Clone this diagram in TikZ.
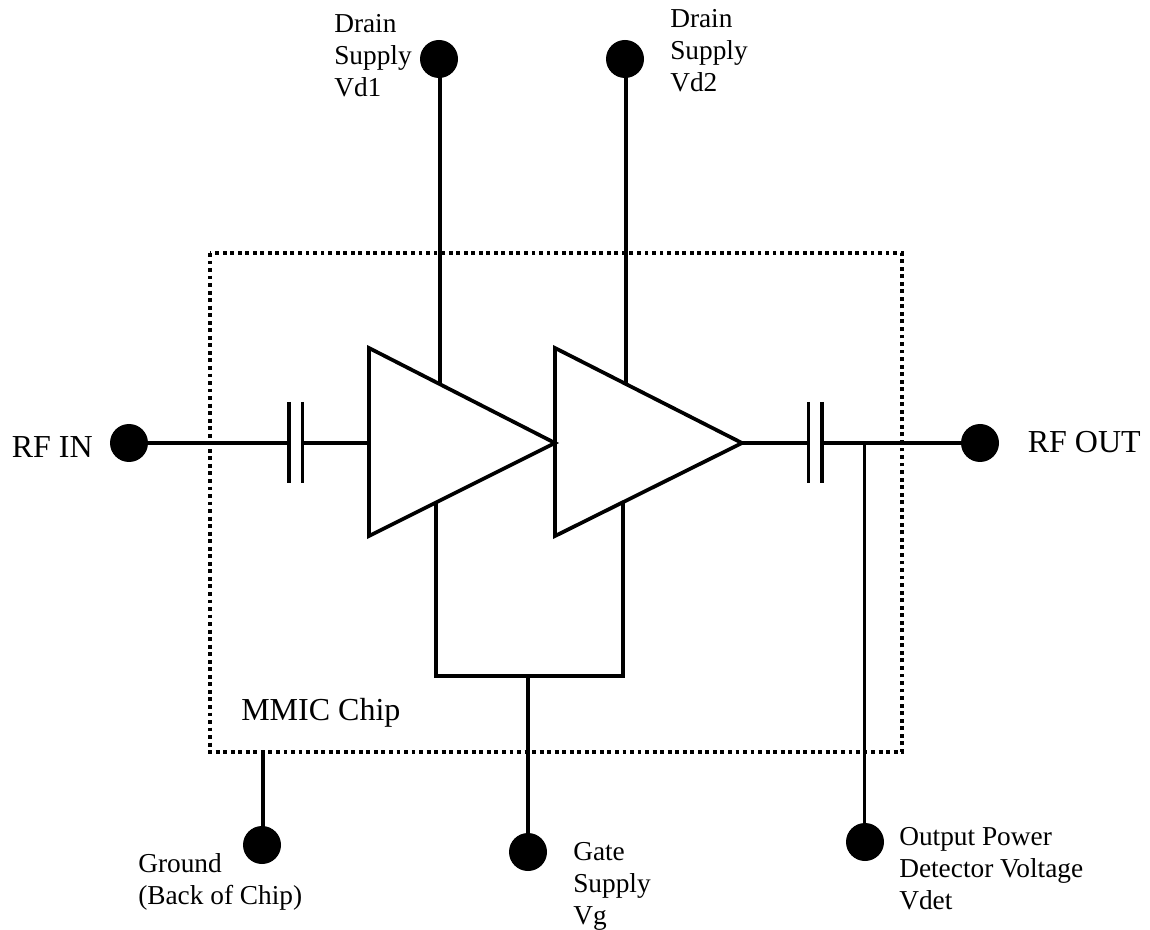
\documentclass[tikz,border=0pt]{standalone}
\usepackage{fontspec}
\setmainfont{Liberation Serif}
\begin{document}
\begin{tikzpicture}[x=1pt,y=-1pt,xscale=0.75,yscale=0.75,
  wire/.style={line width=2.8pt,line cap=butt},
  chip/.style={line width=3pt,dash pattern=on 2.9pt off 2.75pt},
  pad/.style={circle,fill=black,draw=none,minimum size=28.5pt,inner sep=0pt},
  amp/.style={line width=2.8pt,line join=miter},
  small/.style={align=left,inner sep=0pt,anchor=north west,font=\fontsize{20.5pt}{24pt}\selectfont},
  big/.style={inner sep=0pt,font=\fontsize{24pt}{26pt}\selectfont,anchor=base west}]
\useasboundingbox (0,0) rectangle (1150,930);
\path[fill=white] (0,0) rectangle (1150,930);
\draw[chip] (210,253) rectangle (902,752);
\node[pad] (vd1) at (439,59) {};
\node[pad] (vd2) at (625,59) {};
\node[pad] (rfin) at (129,443) {};
\node[pad] (rfout) at (980,443) {};
\node[pad] (gnd) at (262,845) {};
\node[pad] (vg) at (528,852) {};
\node[pad] (det) at (865,842) {};
\coordinate (a1t) at (369,348); \coordinate (a1b) at (369,536); \coordinate (a1o) at (555,443);
\coordinate (a2t) at (555,348); \coordinate (a2b) at (555,536); \coordinate (a2o) at (742,443);
\draw[amp] (a1t) -- (a1b) -- (a1o) -- cycle;
\draw[amp] (a2t) -- (a2b) -- (a2o) -- cycle;
\coordinate (c1l) at (289,443); \coordinate (c1r) at (302.5,443);
\coordinate (c2l) at (808.5,443); \coordinate (c2r) at (821.7,443);
\coordinate (a1i) at (369,443);
\coordinate (j) at (864.5,443);
\coordinate (g) at (528,676);
\draw[wire] (289,402) -- (289,483);
\draw[wire] (302.5,402) -- (302.5,483);
\draw[wire] (808.5,402) -- (808.5,483);
\draw[wire] (821.7,402) -- (821.7,483);
\draw[wire] (rfin.center) -- (c1l);
\draw[wire] (c1r) -- (a1i);
\draw[wire] (a2o) -- (c2l);
\draw[wire] (c2r) -- (rfout.center);
\draw[wire] (440,59) -- (440,384);
\draw[wire] (626,59) -- (626,384);
\draw[wire] (436,503) -- (436,676) -- (623,676) -- (623,503);
\draw[wire] (g) -- (vg.center);
\draw[wire] (263,752) -- (263,845);
\draw[wire] (j) -- (j |- det.center);
\node[small] (t1) at (334,14) {Drain\\Supply\\Vd1};
\node[small] (t2) at (670,9) {Drain\\Supply\\Vd2};
\node[big] (t3) at (11.5,458) {RF IN};
\node[big] (t4) at (1027.5,452.5) {RF OUT};
\node[big] (t5) at (241,720) {MMIC Chip};
\node[small] (t6) at (138,853) {Ground\\(Back of Chip)};
\node[small] (t7) at (573,842) {Gate\\Supply\\Vg};
\node[small] (t8) at (899,827) {Output Power\\Detector Voltage\\Vdet};
\end{tikzpicture}
\end{document}
